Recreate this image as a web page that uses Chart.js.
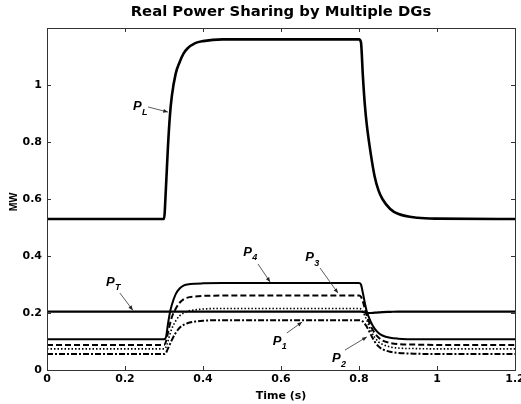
<!DOCTYPE html>
<html>
<head>
<meta charset="utf-8">
<script src="https://cdn.jsdelivr.net/npm/chart.js@4.4.0/dist/chart.umd.min.js"></script>
<style>
  html, body { margin: 0; padding: 0; background: #fff; }
</style>
</head>
<body>
<canvas id="chart" width="521" height="404"></canvas>
<script>
// sample times (s) and the power of each unit (MW)
const time = [0, 0.3, 0.305, 0.31, 0.315, 0.32, 0.33, 0.34, 0.35, 0.36, 0.38, 0.4, 0.45, 0.5,
              0.8, 0.805, 0.81, 0.815, 0.82, 0.83, 0.84, 0.85, 0.86, 0.88, 0.9, 0.95, 1.0, 1.2];
const pLoad = [0.53, 0.53, 0.64, 0.78, 0.89, 0.96, 1.04, 1.08, 1.11, 1.128, 1.147, 1.154, 1.16, 1.16,
               1.16, 1.15, 1.03, 0.93, 0.86, 0.76, 0.68, 0.63, 0.6, 0.565, 0.548, 0.534, 0.531, 0.53];
const pT = [0.205, 0.205, 0.205, 0.205, 0.205, 0.205, 0.205, 0.205, 0.205, 0.205, 0.205, 0.205, 0.205, 0.205,
            0.205, 0.205, 0.204, 0.202, 0.2, 0.2, 0.201, 0.202, 0.203, 0.204, 0.205, 0.205, 0.205, 0.205];
const p4 = [0.108, 0.108, 0.115, 0.16, 0.2, 0.228, 0.266, 0.286, 0.296, 0.3, 0.303, 0.304, 0.305, 0.305,
            0.305, 0.3, 0.27, 0.235, 0.205, 0.17, 0.145, 0.13, 0.121, 0.113, 0.11, 0.108, 0.108, 0.108];
const p3 = [0.088, 0.088, 0.1, 0.13, 0.16, 0.185, 0.215, 0.236, 0.248, 0.254, 0.258, 0.26, 0.261, 0.261,
            0.261, 0.257, 0.24, 0.215, 0.19, 0.155, 0.13, 0.114, 0.104, 0.095, 0.091, 0.089, 0.088, 0.088];
const p2 = [0.074, 0.074, 0.08, 0.1, 0.125, 0.145, 0.172, 0.19, 0.2, 0.206, 0.211, 0.214, 0.216, 0.216,
            0.216, 0.214, 0.205, 0.19, 0.175, 0.14, 0.115, 0.099, 0.09, 0.081, 0.077, 0.075, 0.074, 0.074];
const p1 = [0.056, 0.056, 0.06, 0.075, 0.09, 0.105, 0.13, 0.148, 0.158, 0.164, 0.17, 0.173, 0.175, 0.175,
            0.175, 0.174, 0.17, 0.162, 0.152, 0.125, 0.1, 0.083, 0.073, 0.064, 0.06, 0.057, 0.056, 0.056];

const xTickLabels = ['0', '0.2', '0.4', '0.6', '0.8', '1', '1.2'];
const yTickLabels = ['0', '0.2', '0.4', '0.6', '0.8', '1'];

const titleText = 'Real Power Sharing by Multiple DGs';
const xTitle = 'Time (s)';
const yTitle = 'MW';

// curve labels: text spot and arrow, in data units
const notes = [
  { sub: 'L', tx: 0.2205, ty: 0.926, sx: 0.259, sy: 0.923, ex: 0.31, ey: 0.905 },
  { sub: 'T', tx: 0.151, ty: 0.309, sx: 0.187, sy: 0.27, ex: 0.22, ey: 0.21 },
  { sub: '4', tx: 0.503, ty: 0.414, sx: 0.541, sy: 0.372, ex: 0.572, ey: 0.309 },
  { sub: '3', tx: 0.662, ty: 0.396, sx: 0.7, sy: 0.358, ex: 0.746, ey: 0.27 },
  { sub: '1', tx: 0.579, ty: 0.102, sx: 0.615, sy: 0.13, ex: 0.654, ey: 0.168 },
  { sub: '2', tx: 0.731, ty: 0.042, sx: 0.764, sy: 0.07, ex: 0.82, ey: 0.116 }
];

const pts = arr => time.map((t, i) => ({ x: t, y: arr[i] }));

const ARIAL = '"Liberation Sans", Arial, sans-serif';
const WIDE = '"DejaVu Sans", sans-serif';

const frame = {
  id: 'frame',
  afterDraw(chart) {
    const ctx = chart.ctx;
    const a = chart.chartArea;
    const xs = chart.scales.x, ys = chart.scales.y;
    ctx.save();
    ctx.strokeStyle = '#333';
    ctx.lineWidth = 1;
    ctx.strokeRect(Math.round(a.left) + 0.5, Math.round(a.top) + 0.5,
                   Math.round(a.right - a.left), Math.round(a.bottom - a.top));
    // inward ticks on all four sides
    ctx.beginPath();
    xs.ticks.forEach(t => {
      const px = Math.round(xs.getPixelForValue(t.value)) + 0.5;
      ctx.moveTo(px, a.bottom); ctx.lineTo(px, a.bottom - 4);
      ctx.moveTo(px, a.top); ctx.lineTo(px, a.top + 4);
    });
    ys.ticks.forEach(t => {
      const py = Math.round(ys.getPixelForValue(t.value)) + 0.5;
      ctx.moveTo(a.left, py); ctx.lineTo(a.left + 4, py);
      ctx.moveTo(a.right, py); ctx.lineTo(a.right - 4, py);
    });
    ctx.stroke();

    // titles
    ctx.fillStyle = '#000';
    ctx.textAlign = 'center';
    ctx.textBaseline = 'middle';
    ctx.font = 'bold 14.8px ' + WIDE;
    ctx.fillText(titleText, (a.left + a.right) / 2, 12);
    ctx.font = 'bold 11px ' + WIDE;
    ctx.fillText(xTitle, (a.left + a.right) / 2, 396);
    ctx.save();
    ctx.translate(14, 202);
    ctx.rotate(-Math.PI / 2);
    ctx.font = 'bold 10.5px ' + ARIAL;
    ctx.fillText(yTitle, 0, 0);
    ctx.restore();

    // curve labels with arrows
    notes.forEach(n => {
      const tx = xs.getPixelForValue(n.tx), ty = ys.getPixelForValue(n.ty);
      ctx.textAlign = 'left';
      ctx.font = 'italic bold 13px ' + ARIAL;
      ctx.fillText('P', tx, ty);
      ctx.font = 'italic bold 9px ' + ARIAL;
      ctx.fillText(n.sub, tx + 9, ty + 6);
      const sx = xs.getPixelForValue(n.sx), sy = ys.getPixelForValue(n.sy);
      const ex = xs.getPixelForValue(n.ex), ey = ys.getPixelForValue(n.ey);
      ctx.strokeStyle = '#333';
      ctx.lineWidth = 0.8;
      ctx.beginPath();
      ctx.moveTo(sx, sy); ctx.lineTo(ex, ey);
      ctx.stroke();
      const ang = Math.atan2(ey - sy, ex - sx);
      ctx.beginPath();
      ctx.moveTo(ex, ey);
      ctx.lineTo(ex - 5 * Math.cos(ang - 0.4), ey - 5 * Math.sin(ang - 0.4));
      ctx.lineTo(ex - 5 * Math.cos(ang + 0.4), ey - 5 * Math.sin(ang + 0.4));
      ctx.closePath();
      ctx.fillStyle = '#222';
      ctx.fill();
      ctx.fillStyle = '#000';
    });
    ctx.restore();
  }
};

const line = (label, arr, width, dash) => ({
  label: label,
  data: pts(arr),
  borderColor: '#000',
  borderWidth: width,
  borderDash: dash,
  pointRadius: 0,
  cubicInterpolationMode: 'monotone',
  fill: false
});

new Chart(document.getElementById('chart'), {
  type: 'line',
  data: {
    datasets: [
      line('PL', pLoad, 2.6, []),
      line('PT', pT, 2.2, []),
      line('P4', p4, 2, []),
      line('P3', p3, 2, [6, 3]),
      line('P2', p2, 1.6, [1.5, 2]),
      line('P1', p1, 2, [6, 2, 2, 2])
    ]
  },
  options: {
    responsive: false,
    animation: false,
    layout: { padding: { top: 28, right: 6, bottom: 0, left: 0 } },
    plugins: { legend: { display: false }, tooltip: { enabled: false } },
    scales: {
      x: {
        type: 'linear',
        min: 0, max: 1.2,
        grid: { display: false, drawTicks: false, tickLength: 0 },
        border: { display: false },
        ticks: {
          stepSize: 0.2,
          padding: 3,
          color: '#000',
          font: { family: WIDE, size: 11, weight: 'bold' },
          maxRotation: 0,
          callback: (v, i) => xTickLabels[i]
        },
        afterFit: s => { s.height = 34; s.paddingLeft = 0; s.paddingRight = 0; }
      },
      y: {
        min: 0, max: 1.2,
        grid: { display: false, drawTicks: false, tickLength: 0 },
        border: { display: false },
        ticks: {
          stepSize: 0.2,
          padding: 5,
          color: '#000',
          font: { family: WIDE, size: 11, weight: 'bold' },
          callback: (v, i) => (i < yTickLabels.length ? yTickLabels[i] : '')
        },
        afterFit: s => { s.width = 47; s.paddingTop = 0; s.paddingBottom = 0; }
      }
    }
  },
  plugins: [frame]
});
</script>
</body>
</html>
